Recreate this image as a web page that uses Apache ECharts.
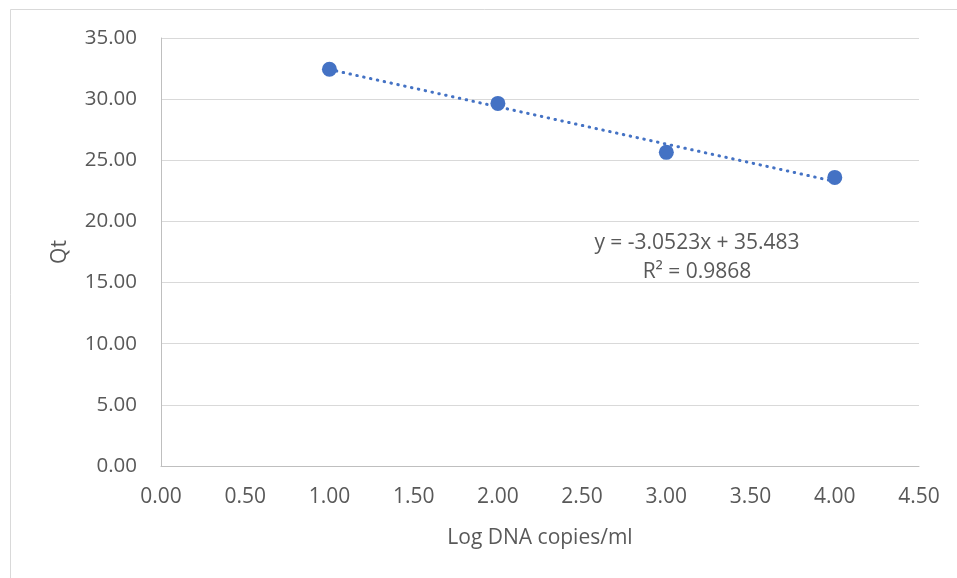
<!DOCTYPE html>
<html>
<head>
<meta charset="utf-8">
<script src="https://cdn.jsdelivr.net/npm/echarts@6/dist/echarts.min.js"></script>
<style>
  html, body { margin: 0; padding: 0; background: #fff; }
  #main { width: 957px; height: 578px; }
</style>
</head>
<body>
<div id="main"></div>
<script>
var logCopies = [1, 2, 3, 4];
var qtValues = [32.45, 29.65, 25.65, 23.6];
// trendline end points as shown in the chart (x = 1 and x = 4)
var trendX = [1, 4];
var trendY = [32.43, 23.27];
var equationText = 'y = -3.0523x + 35.483';
var r2Text = 'R² = 0.9868';

var textColor = '#595959';
var fontName = 'Open Sans';

var chart = echarts.init(document.getElementById('main'));

var option = {
    animation: false,
    backgroundColor: '#fff',
    textStyle: { fontFamily: fontName },
    grid: {
        left: 161,
        right: 38,
        top: 38,
        bottom: 112
    },
    graphic: [
        {
            type: 'rect',
            shape: { x: 10.5, y: 9.5, width: 960, height: 600 },
            style: { fill: 'none', stroke: '#d9d9d9', lineWidth: 1 },
            silent: true
        },
        {
            type: 'text',
            style: {
                x: 697, y: 243,
                text: equationText,
                align: 'center',
                verticalAlign: 'middle',
                fill: textColor,
                font: '21px "' + fontName + '"'
            }
        },
        {
            type: 'text',
            style: {
                x: 697, y: 272,
                text: r2Text,
                align: 'center',
                verticalAlign: 'middle',
                fill: textColor,
                font: '21px "' + fontName + '"'
            }
        }
    ],
    xAxis: {
        type: 'value',
        min: 0,
        max: 4.5,
        interval: 0.5,
        name: 'Log DNA copies/ml',
        nameLocation: 'middle',
        nameGap: 62,
        nameTextStyle: { color: textColor, fontSize: 21, fontFamily: fontName },
        axisLine: { show: true, onZero: false, lineStyle: { color: '#bfbfbf', width: 1 } },
        axisTick: { show: false },
        splitLine: { show: false },
        axisLabel: {
            color: textColor,
            fontSize: 21,
            fontFamily: fontName,
            margin: 21,
            formatter: function (v) { return v.toFixed(2); }
        }
    },
    yAxis: {
        type: 'value',
        min: 0,
        max: 35,
        interval: 5,
        name: 'Qt',
        nameLocation: 'middle',
        nameGap: 90,
        nameRotate: 90,
        nameTextStyle: { color: textColor, fontSize: 21, fontFamily: fontName },
        axisLine: { show: true, lineStyle: { color: '#bfbfbf', width: 1 } },
        axisTick: { show: false },
        splitLine: { show: true, lineStyle: { color: '#d9d9d9', width: 1 } },
        axisLabel: {
            color: textColor,
            fontSize: 20.5,
            fontFamily: fontName,
            margin: 24,
            formatter: function (v) { return v.toFixed(2); }
        }
    },
    series: [
        {
            name: 'Trendline',
            type: 'line',
            data: trendX.map(function (x, i) { return [x, trendY[i]]; }),
            symbol: 'none',
            lineStyle: { color: '#4472c4', width: 3, type: [0.5, 6.5], cap: 'round' },
            z: 2
        },
        {
            name: 'Qt',
            type: 'scatter',
            data: logCopies.map(function (x, i) { return [x, qtValues[i]]; }),
            symbol: 'circle',
            symbolSize: 15,
            itemStyle: { color: '#4472c4', opacity: 1 },
            z: 3
        }
    ]
};

chart.setOption(option);
</script>
</body>
</html>
